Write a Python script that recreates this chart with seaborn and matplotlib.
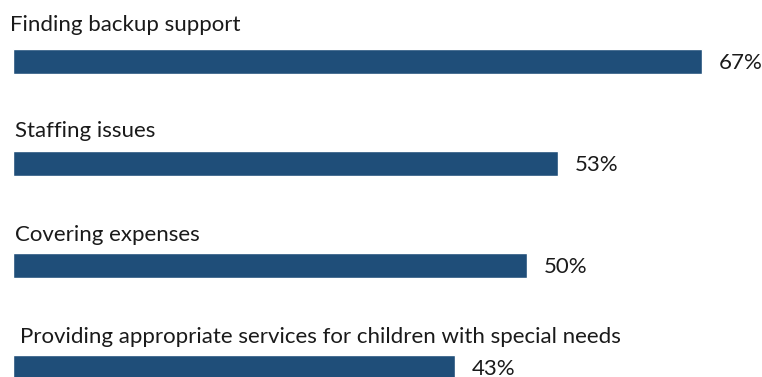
import matplotlib
matplotlib.use("Agg")
import matplotlib.pyplot as plt
import seaborn as sns
import pandas as pd

# Challenges reported, share of respondents (%)
categories = [
    "Finding backup support",
    "Staffing issues",
    "Covering expenses",
    "Providing appropriate services for children with special needs",
]
shares = [67, 53, 50, 43]
value_labels = ["67%", "53%", "50%", "43%"]

df = pd.DataFrame({"category": categories, "share": shares})

sns.set_theme(style="white")
plt.rcParams["font.family"] = ["Lato", "DejaVu Sans"]

BAR_COLOR = "#1F4E79"
PX = 0.72  # points per pixel at dpi 100

fig = plt.figure(figsize=(7.62, 3.77), dpi=100)
ax = fig.add_axes([0, 0, 1, 1])

sns.barplot(data=df, x="share", y="category", orient="h", color=BAR_COLOR,
            saturation=1, width=0.245, ax=ax)

ax.set_xlim(-13 / 10.29, (762 - 13) / 10.29)
ax.set_ylim((377 - 61.5) / 102, -61.5 / 102)
ax.axis("off")

# category titles sit above each bar, values to the right of each bar
title_nudge = [-30.5, -26.5, -24.5, -24]
title_x = [-3, 2, 2, 7]
for i, (cat, val, lab) in enumerate(zip(categories, shares, value_labels)):
    ax.annotate(cat, xy=(0, i), xytext=(title_x[i] * PX, -title_nudge[i] * PX),
                textcoords="offset points", ha="left", va="baseline",
                fontsize=16, color="#1a1a1a")
    ax.annotate(lab, xy=(val, i), xytext=(16 * PX, -8 * PX),
                textcoords="offset points", ha="left", va="baseline",
                fontsize=16, color="#1a1a1a")

fig.savefig("out.png", dpi=100)
